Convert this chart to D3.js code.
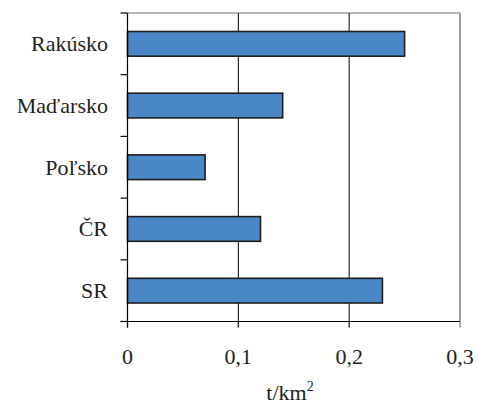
<!DOCTYPE html>
<html><head><meta charset="utf-8">
<script src="https://cdn.jsdelivr.net/npm/d3@7"></script>
<style>body{margin:0;background:#fff}svg{display:block}
text{font-family:"Liberation Serif","Times New Roman",Times,"DejaVu Serif",serif;}</style>
</head><body>
<svg id="c" width="478" height="404"></svg>
<script>
const categories = ["Rakúsko", "Maďarsko", "Poľsko", "ČR", "SR"];
const values = [0.25, 0.14, 0.07, 0.12, 0.23];
const xTicks = [0, 0.1, 0.2, 0.3];
const xTickLabels = ["0", "0,1", "0,2", "0,3"];

const svg = d3.select("#c");
const L = 127.5, R = 460, T = 13, B = 321.5;
const x = d3.scaleLinear().domain([0, 0.3]).range([L, R]);
const y = d3.scaleBand().domain(categories).range([T, B]).paddingInner(0.6).paddingOuter(0.3);
const yb = d3.scaleBand().domain(categories).range([T, B]);

// plot border (top & right gray)
svg.append("line").attr("x1", L).attr("x2", R).attr("y1", T).attr("y2", T)
  .attr("stroke", "#a0a0a0").attr("stroke-width", 1.5);
svg.append("line").attr("x1", R).attr("x2", R).attr("y1", T).attr("y2", B)
  .attr("stroke", "#a0a0a0").attr("stroke-width", 2);

// gridlines
svg.selectAll("line.grid").data(xTicks.filter(d => d > 0 && d < 0.3)).enter().append("line")
  .attr("class", "grid").attr("x1", d => x(d)).attr("x2", d => x(d))
  .attr("y1", T).attr("y2", B).attr("stroke", "#000").attr("stroke-width", 1);

// bars
svg.selectAll("rect.bar").data(values).enter().append("rect")
  .attr("class", "bar")
  .attr("x", x(0))
  .attr("y", (d, i) => y(categories[i]))
  .attr("width", d => x(d) - x(0))
  .attr("height", y.bandwidth())
  .attr("fill", "#4a87c7").attr("stroke", "#1e1e1e").attr("stroke-width", 1.6);

// left axis
svg.append("line").attr("x1", L).attr("x2", L).attr("y1", T).attr("y2", B + 6)
  .attr("stroke", "#000").attr("stroke-width", 1.2);
const bounds = categories.map(c => yb(c)).concat([B]);
svg.selectAll("line.ytick").data(bounds).enter().append("line")
  .attr("x1", L - 7).attr("x2", L).attr("y1", d => d).attr("y2", d => d)
  .attr("stroke", "#000").attr("stroke-width", 1.2);
svg.selectAll("text.ylab").data(categories).enter().append("text")
  .attr("x", 108).attr("y", d => yb(d) + yb.bandwidth() / 2)
  .attr("dy", "0.33em").attr("text-anchor", "end")
  .style("font-size", "22px").attr("fill", "#231f20").text(d => d);

// bottom axis
svg.append("line").attr("x1", L - 7).attr("x2", R).attr("y1", B).attr("y2", B)
  .attr("stroke", "#000").attr("stroke-width", 1.2);
svg.selectAll("line.xtick").data(xTicks).enter().append("line")
  .attr("x1", d => x(d)).attr("x2", d => x(d)).attr("y1", B).attr("y2", B + 6)
  .attr("stroke", d => d === 0.3 ? "#777" : "#000").attr("stroke-width", 1.2);
svg.selectAll("text.xlab").data(xTicks).enter().append("text")
  .attr("x", d => x(d)).attr("y", 364).attr("text-anchor", "middle")
  .style("font-size", "22px").attr("fill", "#231f20")
  .text((d, i) => xTickLabels[i]);

// axis title
const t = svg.append("text").attr("x", 290).attr("y", 400).attr("text-anchor", "middle")
  .style("font-size", "22px").attr("fill", "#231f20");
t.append("tspan").text("t/km");
t.append("tspan").attr("dy", -9).style("font-size", "14px").text("2");
</script>
</body></html>
